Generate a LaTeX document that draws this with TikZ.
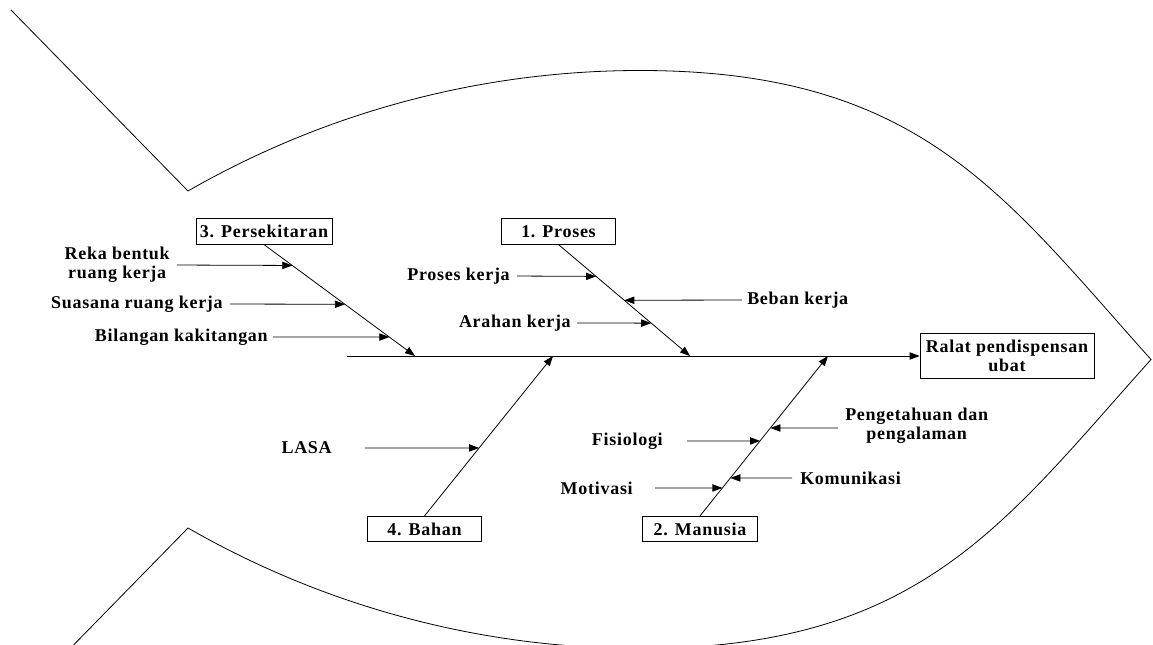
\documentclass[tikz,border=0pt]{standalone}
\usepackage{fontspec}
\usetikzlibrary{arrows.meta,calc}
\newfontfamily\fishfont{Liberation Serif}[LetterSpace=4]
\tikzset{
	kategori/.style={draw, line width=0.6pt, minimum width=86pt, minimum height=19pt, inner xsep=3pt, inner ysep=2pt},
	punca/.style={inner sep=0pt, align=center},
	tulang/.style={line width=0.6pt, -{Triangle[length=7.5pt,width=5.5pt]}},
}

\begin{document}
\begin{tikzpicture}[x=0.75pt, y=-0.75pt, font=\fishfont\bfseries\fontsize{13.5}{14.5}\selectfont]
	\useasboundingbox (0,0) rectangle (1153,645);
	\clip (0,0) rectangle (1153,645);
	\draw[line width=0.6pt] (11,10) -- (188,191) .. controls (325.6,112) and (481.3,70.5) .. (640,70.5)
		.. controls (920,70.5) and (1003,194.5) .. (1151,359.5)
		.. controls (1003,524.5) and (920,648.5) .. (640,648.5)
		.. controls (481.3,648.5) and (325.6,607) .. (188,528) -- (11,709);
	\node[kategori] (persekitaran) at (264,231.5) {3. Persekitaran};
	\node[kategori] (proses) at (558.5,231.5) {1. Proses};
	\node[kategori] (bahan) at (424.5,529) {4. Bahan};
	\node[kategori] (manusia) at (700,529) {2. Manusia};
	\node[kategori, minimum width=130.5pt, minimum height=33.75pt, align=center] (ralat) at (1007,356) {Ralat pendispensan\\ubat};
	\coordinate (ekor) at (347,356);
	\coordinate (t3) at (415,356);
	\coordinate (t1) at (690,356);
	\coordinate (t4) at (553,356);
	\coordinate (t2) at (828,356);
	\draw[tulang] (ekor) -- (ralat);
	\draw[tulang] (persekitaran.south) -- (t3);
	\draw[tulang] (proses.south) -- (t1);
	\draw[tulang] (bahan.north) -- (t4);
	\draw[tulang] (manusia.north) -- (t2);
	\coordinate (p31) at ($(persekitaran.south)!0.1875!(t3)$);
	\coordinate (p32) at ($(persekitaran.south)!0.536!(t3)$);
	\coordinate (p33) at ($(persekitaran.south)!0.830!(t3)$);
	\coordinate (p11) at ($(proses.south)!0.2857!(t1)$);
	\coordinate (p12) at ($(proses.south)!0.5!(t1)$);
	\coordinate (p13) at ($(proses.south)!0.705!(t1)$);
	\coordinate (p41) at ($(bahan.north)!0.425!(t4)$);
	\coordinate (p21) at ($(manusia.north)!0.55!(t2)$);
	\coordinate (p22) at ($(manusia.north)!0.469!(t2)$);
	\coordinate (p23) at ($(manusia.north)!0.2375!(t2)$);
	\coordinate (p24) at ($(manusia.north)!0.175!(t2)$);
	\node[punca, anchor=east] (reka) at (170,265) {Reka bentuk\\ruang kerja};
	\node[punca, anchor=east] (suasana) at (223,304) {Suasana ruang kerja};
	\node[punca, anchor=east] (bilangan) at (268,337) {Bilangan kakitangan};
	\node[punca, anchor=east] (proseskerja) at (510,276) {Proses kerja};
	\node[punca, anchor=west] (beban) at (747,300) {Beban kerja};
	\node[punca, anchor=east] (arahan) at (571,323) {Arahan kerja};
	\node[punca, anchor=east] (lasa) at (332,448) {LASA};
	\node[punca, anchor=west] (pengetahuan) at (845,426) {Pengetahuan dan\\pengalaman};
	\node[punca, anchor=east] (fisiologi) at (663,441) {Fisiologi};
	\node[punca, anchor=west] (komunikasi) at (800,478) {Komunikasi};
	\node[punca, anchor=east] (motivasi) at (633,488) {Motivasi};
	\draw[tulang, shorten <=5.25pt] (reka.east) -- (p31);
	\draw[tulang, shorten <=5.25pt] (suasana.east) -- (p32);
	\draw[tulang, shorten <=3.75pt] (bilangan.east) -- (p33);
	\draw[tulang, shorten <=5.25pt] (proseskerja.east) -- (p11);
	\draw[tulang, shorten <=3.75pt] (beban.west) -- (p12);
	\draw[tulang, shorten <=4.5pt] (arahan.east) -- (p13);
	\draw[tulang, shorten <=24.75pt] (lasa.east) -- (p41);
	\draw[tulang, shorten <=5.25pt] ([yshift=-1.5pt]pengetahuan.west) -- (p21);
	\draw[tulang, shorten <=18pt] (fisiologi.east) -- (p22);
	\draw[tulang, shorten <=6pt] (komunikasi.west) -- (p23);
	\draw[tulang, shorten <=16.5pt] (motivasi.east) -- (p24);
\end{tikzpicture}
\end{document}
